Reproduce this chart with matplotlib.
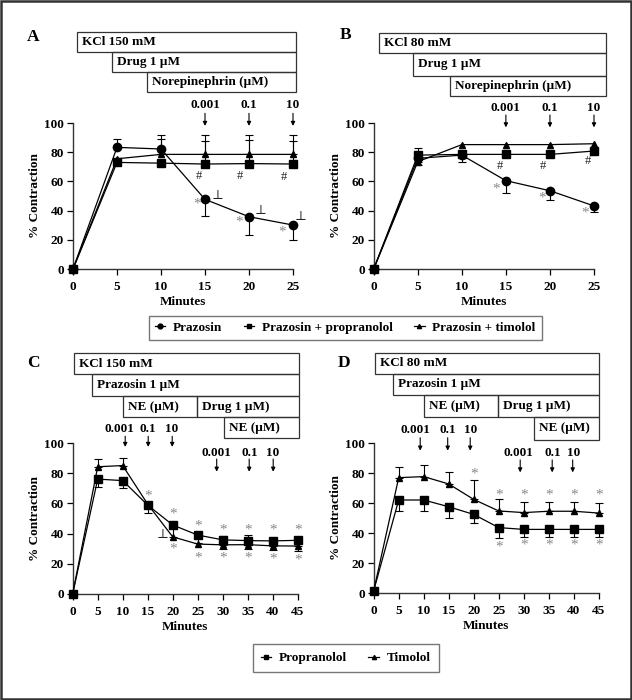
import matplotlib
matplotlib.use('Agg')
import matplotlib.pyplot as plt
from matplotlib.patches import Rectangle
from matplotlib.lines import Line2D
from matplotlib.transforms import ScaledTranslation
import numpy as np

plt.rcParams['font.family'] = ['Liberation Serif', 'DejaVu Serif']
plt.rcParams['font.weight'] = 'bold'
plt.rcParams['font.size'] = 9.5
plt.rcParams['axes.labelweight'] = 'bold'

# ---------------- data ----------------
t_top = [0, 5, 10, 15, 20, 25]
t_bot = [0, 5, 10, 15, 20, 25, 30, 35, 40, 45]

# Panel A (KCl 150 mM)
A_praz = [0, 83.3, 82.2, 47.7, 35.8, 30.1]
A_praz_lo = [0, 0, 0, 11.4, 12.5, 10.2]
A_praz_hi = [0, 5.5, 9.4, 0, 0, 0]
A_prop = [0, 73, 72.5, 71.9, 72.2, 71.9]
A_prop_lo = [0, 0, 0, 0, 0, 0]
A_prop_hi = [0, 0, 0, 16, 16, 16]
A_tim = [0, 75.5, 78.5, 78.5, 78.5, 78.5]
A_tim_lo = [0, 0, 0, 0, 0, 0]
A_tim_hi = [0, 0, 10.5, 13.3, 13.5, 13.3]

# Panel B (KCl 80 mM)
B_praz = [0, 75.8, 78, 60.5, 53.6, 43.2]
B_praz_lo = [0, 0, 4.5, 8.7, 6.3, 3.9]
B_praz_hi = [0, 0, 0, 0, 0, 0]
B_prop = [0, 78, 78.5, 78.5, 78.5, 80.8]
B_prop_lo = [0, 0, 0, 0, 0, 0]
B_prop_hi = [0, 4.6, 0, 0, 0, 0]
B_tim = [0, 73.5, 85.2, 85.2, 85.2, 85.8]
B_tim_lo = [0, 2.5, 0, 0, 0, 0]
B_tim_hi = [0, 0, 0, 0, 0, 0]

# Panel C (KCl 150 mM, prazosin pre-treated)
C_prop = [0, 76.2, 75.2, 58.9, 45.7, 39.0, 35.8, 35.3, 35.1, 35.5]
C_prop_lo = [0, 5, 5, 5.5, 7.7, 5.3, 0, 0, 0, 0]
C_prop_hi = [0, 0, 0, 0, 0, 0, 2.5, 3.5, 0, 0]
C_tim = [0, 84.4, 85.2, 59.5, 37.8, 33.0, 32.5, 32.6, 31.8, 31.7]
C_tim_lo = [0, 0, 0, 0, 0, 0, 3, 3, 3, 3]
C_tim_hi = [0, 5, 5, 0, 0, 0, 0, 0, 0, 0]

# Panel D (KCl 80 mM, prazosin pre-treated)
D_prop = [1.5, 62.0, 62.0, 57.5, 52.4, 43.6, 42.4, 42.4, 42.4, 42.4]
D_prop_lo = [0, 7.3, 7.3, 7.3, 5.5, 7.2, 4.9, 4.9, 4.9, 4.9]
D_prop_hi = [0, 0, 0, 0, 0, 0, 0, 0, 0, 0]
D_tim = [1.5, 76.9, 77.6, 72.7, 62.4, 54.7, 53.6, 54.5, 54.5, 53.3]
D_tim_lo = [0, 0, 0, 0, 0, 0, 0, 0, 0, 0]
D_tim_hi = [0, 7.3, 7.9, 8.2, 12.9, 7.7, 7.3, 6.4, 6.4, 6.9]

yticks = [0, 20, 40, 60, 80, 100]
xticks_top = [0, 5, 10, 15, 20, 25]
xticks_bot = [0, 5, 10, 15, 20, 25, 30, 35, 40, 45]
ne_doses = ['0.001', '0.1', '10']

# significance symbols (x, y)
A_star = [(14.1, 44.5), (18.9, 32), (23.8, 25.5)]
A_hash = [(14.3, 63.5), (19.0, 63.5), (24.0, 63)]
A_perp = [(16.4, 50), (21.3, 39.5), (25.9, 35.5)]
B_star = [(13.9, 55), (19.1, 48.5), (24.0, 38.5)]
B_hash = [(14.3, 70.5), (19.2, 70.5), (24.3, 74)]
C_star = [(15, 65), (20, 53), (25, 45), (30, 42.5), (35, 42.5), (40, 42.5), (45, 42),
          (20, 30), (25, 23.5), (30, 23.5), (35, 23.5), (40, 23), (45, 22.5)]
C_perp = [(17.9, 39)]
D_star = [(20, 79), (25, 65.5), (30, 65), (35, 65), (40, 65), (45, 65),
          (25, 30.5), (30, 32), (35, 32), (40, 32), (45, 32)]

# ---------------- figure ----------------
fig = plt.figure(figsize=(6.32, 7.0), dpi=100)
W, H = 632.0, 700.0

def make_ax(x0, x1, ytop, ybot):
    return fig.add_axes([x0 / W, 1 - ybot / H, (x1 - x0) / W, (ybot - ytop) / H])

axA = make_ax(73, 293, 123, 269)
axB = make_ax(373.7, 594, 123, 269)
axC = make_ax(72.7, 297.7, 443.3, 593.7)
axD = make_ax(373.7, 598.7, 443, 593)

EC = '#333333'

def style(ax, xmax, xticks):
    ax.set_xlim(0, xmax)
    ax.set_ylim(0, 100)
    for s in ['top', 'right']:
        ax.spines[s].set_visible(False)
    for s in ['left', 'bottom']:
        ax.spines[s].set_linewidth(1.0)
        ax.spines[s].set_color(EC)
    ax.set_xticks(xticks)
    ax.set_yticks(yticks)
    ax.tick_params(direction='out', length=4, width=0.9, colors='black', pad=2.5,
                   labelsize=9.5)
    ax.tick_params(axis='x', pad=4.5)
    ax.set_xlabel('Minutes', fontsize=9.5, labelpad=2.5)
    ax.set_ylabel('% Contraction', fontsize=9.5, labelpad=2)

def series(ax, t, y, lo, hi, marker, ms):
    t = np.asarray(t, float); y = np.asarray(y, float)
    lo = np.asarray(lo, float); hi = np.asarray(hi, float)
    m = (lo > 0) | (hi > 0)
    if m.any():
        ax.errorbar(t[m], y[m], yerr=[lo[m], hi[m]], fmt='none', ecolor='black',
                    elinewidth=0.8, capsize=3, capthick=0.8, zorder=2, clip_on=False)
    ax.plot(t, y, color='black', lw=0.9, marker=marker, ms=ms, mfc='black',
            mec='black', zorder=3, clip_on=False)

def boxes(ax, specs):
    off = ScaledTranslation(3.5 / 72, 0, fig.dpi_scale_trans)
    for label, x0, x1, y0, y1 in specs:
        ax.add_patch(Rectangle((x0, y0), x1 - x0, y1 - y0, fill=False, lw=0.9,
                               ec=EC, clip_on=False, zorder=1))
        ax.text(x0, (y0 + y1) / 2, label, ha='left', va='center', fontsize=9.5,
                transform=ax.transData + off, clip_on=False)

def arrows(ax, xs, lab_x, lab_y, y_from, y_to):
    for x, lx, d in zip(xs, lab_x, ne_doses):
        ax.annotate('', xy=(x, y_to), xytext=(x, y_from),
                    arrowprops=dict(arrowstyle='-|>', lw=0.8, color='black',
                                    mutation_scale=6, shrinkA=0, shrinkB=0),
                    annotation_clip=False)
        ax.text(lx, lab_y, d, ha='center', va='center', fontsize=9.5, clip_on=False)

def symbols(ax, pts, sym, color, size=9):
    for x, y in pts:
        ax.text(x, y, sym, ha='center', va='center', fontsize=size, color=color,
                clip_on=False, fontweight='normal')

# Panel A
style(axA, 25, xticks_top)
series(axA, t_top, A_tim, A_tim_lo, A_tim_hi, '^', 4.5)
series(axA, t_top, A_prop, A_prop_lo, A_prop_hi, 's', 5.5)
series(axA, t_top, A_praz, A_praz_lo, A_praz_hi, 'o', 6)
boxes(axA, [('KCl 150 mM', 0.45, 25.3, 148.6, 162.3),
            ('Drug 1 µM', 4.4, 25.3, 134.9, 148.6),
            ('Norepinephrin (µM)', 8.4, 25.3, 121.2, 134.9)])
arrows(axA, [15, 20, 25], [15, 20, 25], 112.3, 106.6, 98)
symbols(axA, A_star, '*', '#888888', 11)
symbols(axA, A_hash, '#', '#222222', 9)
symbols(axA, A_perp, '⊥', '#222222', 9)

# Panel B
style(axB, 25, xticks_top)
series(axB, t_top, B_tim, B_tim_lo, B_tim_hi, '^', 4.5)
series(axB, t_top, B_prop, B_prop_lo, B_prop_hi, 's', 5.5)
series(axB, t_top, B_praz, B_praz_lo, B_praz_hi, 'o', 6)
boxes(axB, [('KCl 80 mM', 0.57, 26.4, 147.9, 161.6),
            ('Drug 1 µM', 4.46, 26.4, 132.4, 147.9),
            ('Norepinephrin (µM)', 8.7, 26.4, 118.7, 132.4)])
arrows(axB, [15, 20, 25], [15, 20, 25], 110, 105.5, 97)
symbols(axB, B_star, '*', '#888888', 11)
symbols(axB, B_hash, '#', '#222222', 9)

# Panel C
style(axC, 45, xticks_bot)
series(axC, t_bot, C_tim, C_tim_lo, C_tim_hi, '^', 4.5)
series(axC, t_bot, C_prop, C_prop_lo, C_prop_hi, 's', 6)
boxes(axC, [('KCl 150 mM', 0.26, 45.3, 146.1, 159.8),
            ('Prazosin 1 µM', 3.9, 45.3, 131.4, 146.1),
            ('NE (µM)', 10.1, 24.9, 117.3, 131.4),
            ('Drug 1 µM)', 24.9, 45.3, 117.3, 131.4),
            ('NE (µM)', 30.3, 45.3, 103.3, 117.3)])
arrows(axC, [10.5, 15.1, 19.9], [9.4, 15.1, 19.8], 109.6, 104.7, 97.6)
arrows(axC, [28.8, 35.3, 40.1], [28.7, 35.4, 40.0], 93.3, 89.5, 81.1)
symbols(axC, C_star, '*', '#888888', 11)
symbols(axC, C_perp, '⊥', '#222222', 9)

# Panel D
style(axD, 45, xticks_bot)
series(axD, t_bot, D_tim, D_tim_lo, D_tim_hi, '^', 4.5)
series(axD, t_bot, D_prop, D_prop_lo, D_prop_hi, 's', 6)
boxes(axD, [('KCl 80 mM', 0.3, 45, 146.3, 159.8),
            ('Prazosin 1 µM', 3.8, 45, 132.3, 146.3),
            ('NE (µM)', 10.1, 24.8, 117.6, 132.3),
            ('Drug 1 µM)', 24.8, 45, 117.6, 132.3),
            ('NE (µM)', 32.0, 45, 101.8, 117.6)])
arrows(axD, [9.3, 14.8, 19.3], [8.4, 14.9, 19.4], 108.4, 103.5, 94.9)
arrows(axD, [29.3, 35.7, 39.8], [29.0, 35.8, 40.0], 93, 88.7, 80.4)
symbols(axD, D_star, '*', '#888888', 11)

# panel letters
for lab, x, y in [('A', 33, 37), ('B', 346, 35), ('C', 33, 363), ('D', 344, 363)]:
    fig.text(x / W, 1 - y / H, lab, fontsize=12.5, fontweight='bold',
             ha='center', va='center')

# legends
def h(marker, ms):
    return Line2D([], [], color='black', lw=0.9, marker=marker, ms=ms)

leg1 = fig.legend([h('o', 3.5), h('s', 3.5), h('^', 3)],
                  ['Prazosin', 'Prazosin + propranolol', 'Prazosin + timolol'],
                  loc='center', bbox_to_anchor=(345.2 / W, 1 - 327.8 / H), ncol=3,
                  frameon=True, fancybox=False, edgecolor='#555555',
                  handlelength=0.8, handletextpad=0.6, columnspacing=1.6,
                  borderpad=0.45, fontsize=9.5)
leg1.get_frame().set_linewidth(1.0)
leg2 = fig.legend([h('s', 3.5), h('^', 3)], ['Propranolol', 'Timolol'],
                  loc='center', bbox_to_anchor=(345.8 / W, 1 - 658 / H), ncol=2,
                  frameon=True, fancybox=False, edgecolor='#555555',
                  handlelength=0.8, handletextpad=0.6, columnspacing=1.6,
                  borderpad=0.6, fontsize=9.5)
leg2.get_frame().set_linewidth(1.0)

# outer border
fig.patches.append(Rectangle((0.002, 0.002), 0.996, 0.996, transform=fig.transFigure,
                             fill=False, lw=1.8, ec='#333333'))

fig.savefig('out.png', dpi=100)
